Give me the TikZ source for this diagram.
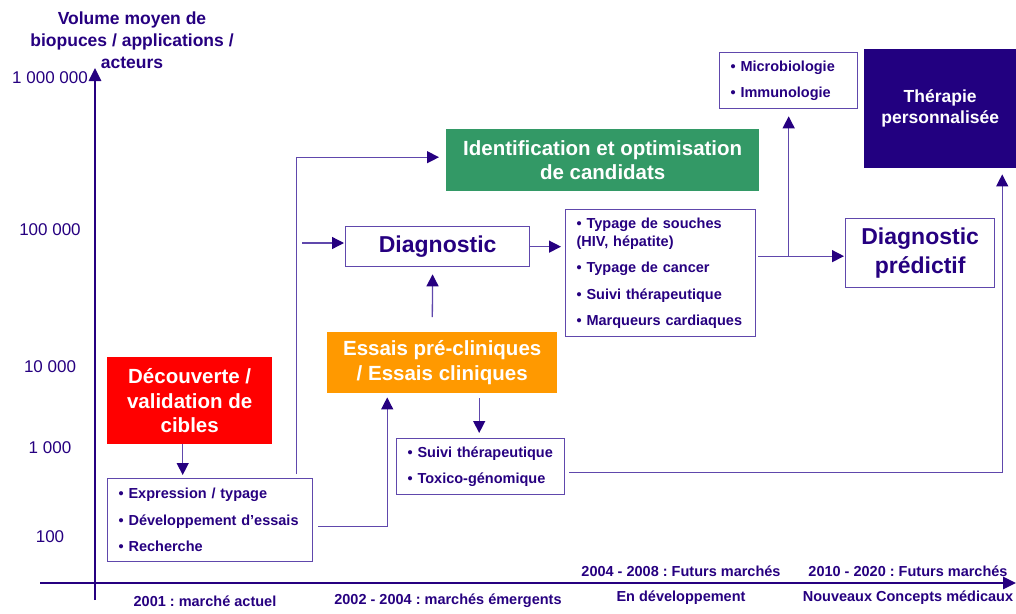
\documentclass[tikz,border=0pt]{standalone}
\usepackage{fontspec}
\setmainfont{Liberation Sans}
\usetikzlibrary{arrows.meta}
\frenchspacing
\newcommand{\nohyph}{\hyphenpenalty=10000\relax\exhyphenpenalty=10000\relax}
\definecolor{ink}{RGB}{38,0,128}
\definecolor{edge}{RGB}{96,72,172}
\definecolor{redbox}{RGB}{255,0,0}
\definecolor{orangebox}{RGB}{255,153,0}
\definecolor{greenbox}{RGB}{51,153,102}
\definecolor{darkbox}{RGB}{34,0,128}
\tikzset{
  itembox/.style={draw=edge, line width=1.3pt, text=ink, anchor=north west, align=left,
    inner xsep=11pt, inner ysep=0pt,
    font=\bfseries\fontsize{14.5}{26.5}\selectfont\nohyph},
  colbox/.style={anchor=north west, align=center, inner sep=0pt, text=white,
    font=\bfseries\fontsize{20.5}{24.5}\selectfont},
  titlebox/.style={draw=edge, line width=1.3pt, anchor=north west, align=center, inner sep=0pt,
    text=ink, font=\bfseries\fontsize{23}{29}\selectfont},
  conn/.style={draw=edge, line width=1.3pt, -{Triangle[length=12pt,width=12pt,color=ink]}},
  axis/.style={draw=ink, line width=2.6pt, -{Triangle[length=13pt,width=12pt]}},
  ticklabel/.style={text=ink, font=\fontsize{17}{20}\selectfont},
  yearlabel/.style={text=ink, font=\bfseries\fontsize{14.5}{18}\selectfont}
}
\begin{document}
\begin{tikzpicture}[x=1pt,y=-1pt]
    \useasboundingbox (0,0) rectangle (1016,613);
    % axes
    \coordinate (ybot) at (95,600);
    \coordinate (ytop) at (95,68);
    \coordinate (xleft) at (40,583);
    \coordinate (xright) at (1016,583);
    \draw[axis] (ybot) -- (ytop);
    \draw[axis] (xleft) -- (xright);
    \node[yearlabel, align=center, font=\bfseries\fontsize{17.5}{22}\selectfont] (ytitle) at (132,40)
        {Volume moyen de\\biopuces / applications /\\acteurs};
    \node[ticklabel] (t6) at (50,78) {1 000 000};
    \node[ticklabel] (t5) at (50,230) {100 000};
    \node[ticklabel] (t4) at (50,367) {10 000};
    \node[ticklabel] (t3) at (50,448) {1 000};
    \node[ticklabel] (t2) at (50,537) {100};
    \node[yearlabel] (y2001) at (205,601) {2001 : march\'e actuel};
    \node[yearlabel] (y2002) at (448,601) {2002 - 2004 : march\'es \'emergents};
    \node[yearlabel] (y2004) at (681,571) {2004 - 2008 : Futurs march\'es};
    \node[yearlabel] (ydev) at (681,598) {En d\'eveloppement};
    \node[yearlabel] (y2010) at (908,571) {2010 - 2020 : Futurs march\'es};
    \node[yearlabel] (ynew) at (908,598) {Nouveaux Concepts m\'edicaux};
    % coloured boxes
    \node[colbox, fill=redbox, minimum width=165pt, minimum height=87pt] (cibles) at (107,357)
        {D\'ecouverte /\\validation de\\cibles};
    \node[colbox, fill=orangebox, minimum width=230pt, minimum height=61pt] (essais) at (327,332)
        {Essais pr\'e-cliniques\\/ Essais cliniques};
    \node[colbox, fill=greenbox, minimum width=313pt, minimum height=62pt] (candidats) at (446,129)
        {Identification et optimisation\\de candidats};
    \node[colbox, fill=darkbox, minimum width=152pt, minimum height=119pt,
        font=\bfseries\fontsize{17.5}{21}\selectfont] (therapie) at (864,49)
        {Th\'erapie\\personnalis\'ee};
    % framed boxes
    \node[titlebox, minimum width=184pt, minimum height=40pt] (diag) at (345,226) {Diagnostic};
    \node[titlebox, minimum width=149pt, minimum height=69pt] (predictif) at (845,218)
        {Diagnostic\\pr\'edictif};
    \node[itembox, text width=183pt, minimum height=83pt] (recherche) at (107,478)
        {• Expression / typage\\• D\'eveloppement d’essais\\• Recherche};
    \node[itembox, text width=146pt, minimum height=56pt] (suivi) at (396,438)
        {• Suivi th\'erapeutique\\• Toxico-g\'enomique};
    \node[itembox, text width=168pt, minimum height=127pt] (typage) at (565,209)
        {• Typage de souches\\[-8.5pt](HIV, h\'epatite)\\• Typage de cancer\\• Suivi th\'erapeutique\\• Marqueurs cardiaques};
    \node[itembox, text width=116pt, minimum height=56pt] (micro) at (719,52)
        {• Microbiologie\\• Immunologie};
    % connectors
    \draw[conn, shorten >=3pt] ([xshift=-7pt]cibles.south) -- ([xshift=-7pt]cibles.south |- recherche.north);
    \draw[conn, shorten <=4pt, shorten >=7pt] ([xshift=-17pt]recherche.north east) |- ([yshift=3pt]candidats.west);
    \draw[conn, shorten <=5pt, shorten >=4pt] ([yshift=-6pt]recherche.east) -| ([xshift=-55pt]essais.south);
    \draw[conn, shorten <=5pt, shorten >=5pt] ([xshift=37pt]essais.south) -- ([xshift=37pt]essais.south |- suivi.north);
    \draw[conn, shorten <=4pt, shorten >=6pt] ([yshift=-6pt]suivi.east) -| ([xshift=62pt]therapie.south);
    \draw[conn, shorten <=15pt, shorten >=7pt] ([xshift=-10pt]essais.north) -- ([xshift=-5pt]diag.south);
    \coordinate (diagin) at (302,243);
    \draw[conn, shorten >=1pt] (diagin) -- (diagin -| diag.west);
    \draw[conn, shorten >=4pt] (diag.east) -- (diag.east -| typage.west);
    \draw[conn, shorten <=2pt, shorten >=1pt] ([yshift=17pt]typage.east) -- ([yshift=17pt]typage.east -| predictif.west);
    \coordinate (branch) at ([yshift=17pt]typage.east -| micro.south);
    \draw[conn, shorten >=7pt] (branch) -- (micro.south);
\end{tikzpicture}
\end{document}
